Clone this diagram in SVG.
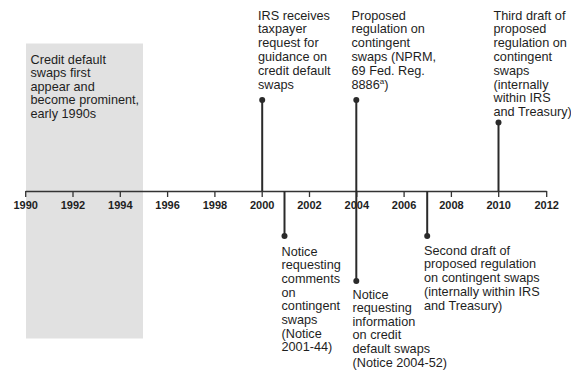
<svg xmlns="http://www.w3.org/2000/svg" width="571" height="370" viewBox="0 0 571 370">
<style>
.t{font-family:"Liberation Sans",Arial,Helvetica,sans-serif;font-size:12.7px;fill:#1e1e1e}
.y{font-family:"Liberation Sans",Arial,Helvetica,sans-serif;font-size:11px;font-weight:bold;fill:#1e1e1e;text-anchor:middle}
.stem{stroke:#2a2a2a;stroke-width:2;fill:none}
.dot{fill:#2a2a2a}
.axis{stroke:#333;stroke-width:1.3;fill:none}
</style>
<rect width="571" height="370" fill="#ffffff"/>
<g id="period-1990s">
<rect x="26" y="43.5" width="117" height="295" fill="#e1e1e1"/>
<text class="t" x="30.5" y="64"><tspan x="30.5">Credit default</tspan><tspan x="30.5" dy="13.4">swaps first</tspan><tspan x="30.5" dy="13.4">appear and</tspan><tspan x="30.5" dy="13.4">become prominent,</tspan><tspan x="30.5" dy="13.4">early 1990s</tspan></text>
</g>
<g id="axis">
<path class="axis" d="M25.7 191.5H546.7M25.7 191V197M73 191V197M120.3 191V197M167.6 191V197M214.9 191V197M262.2 191V197M309.5 191V197M356.8 191V197M404.1 191V197M451.4 191V197M498.7 191V197M546.7 191V197"/>
<text class="y" x="25.7" y="209">1990</text>
<text class="y" x="73" y="209">1992</text>
<text class="y" x="120.3" y="209">1994</text>
<text class="y" x="167.6" y="209">1996</text>
<text class="y" x="214.9" y="209">1998</text>
<text class="y" x="262.2" y="209">2000</text>
<text class="y" x="309.5" y="209">2002</text>
<text class="y" x="356.8" y="209">2004</text>
<text class="y" x="404.1" y="209">2006</text>
<text class="y" x="451.4" y="209">2008</text>
<text class="y" x="498.7" y="209">2010</text>
<text class="y" x="546.7" y="209">2012</text>
</g>
<g id="connectors">
<path class="stem" d="M262.2 100V191"/>
<path class="stem" d="M356.3 100V191"/>
<path class="stem" d="M498.5 122.5V191"/>
<path class="stem" d="M284.5 191V236"/>
<path class="stem" d="M356.3 191V281"/>
<path class="stem" d="M427.2 191V236"/>
</g>
<g id="event-2000">
<circle class="dot" cx="262.2" cy="100" r="3"/>
<text class="t" x="258" y="19.5"><tspan x="258">IRS receives</tspan><tspan x="258" dy="13.8">taxpayer</tspan><tspan x="258" dy="13.8">request for</tspan><tspan x="258" dy="13.8">guidance on</tspan><tspan x="258" dy="13.8">credit default</tspan><tspan x="258" dy="13.8">swaps</tspan></text>
</g>
<g id="event-2004-nprm">
<circle class="dot" cx="356.3" cy="100" r="3"/>
<text class="t" x="351.5" y="19.5"><tspan x="351.5">Proposed</tspan><tspan x="351.5" dy="13.8">regulation on</tspan><tspan x="351.5" dy="13.8">contingent</tspan><tspan x="351.5" dy="13.8">swaps (NPRM,</tspan><tspan x="351.5" dy="13.8">69 Fed. Reg.</tspan><tspan x="351.5" dy="13.8">8886<tspan font-size="8" dy="-4.5">a</tspan><tspan dy="4.5">)</tspan></tspan></text>
</g>
<g id="event-2010">
<circle class="dot" cx="498.5" cy="122.5" r="3"/>
<text class="t" x="493.5" y="19.5"><tspan x="493.5">Third draft of</tspan><tspan x="493.5" dy="13.8">proposed</tspan><tspan x="493.5" dy="13.8">regulation on</tspan><tspan x="493.5" dy="13.8">contingent</tspan><tspan x="493.5" dy="13.8">swaps</tspan><tspan x="493.5" dy="13.8">(internally</tspan><tspan x="493.5" dy="13.8">within IRS</tspan><tspan x="493.5" dy="13.8">and Treasury)</tspan></text>
</g>
<g id="event-2001">
<circle class="dot" cx="284.5" cy="236" r="3"/>
<text class="t" x="281.5" y="255.5"><tspan x="281.5">Notice</tspan><tspan x="281.5" dy="13.7">requesting</tspan><tspan x="281.5" dy="13.7">comments</tspan><tspan x="281.5" dy="13.7">on</tspan><tspan x="281.5" dy="13.7">contingent</tspan><tspan x="281.5" dy="13.7">swaps</tspan><tspan x="281.5" dy="13.7">(Notice</tspan><tspan x="281.5" dy="13.7">2001-44)</tspan></text>
</g>
<g id="event-2004-notice">
<circle class="dot" cx="356.3" cy="281" r="3"/>
<text class="t" x="352.5" y="298.5"><tspan x="352.5">Notice</tspan><tspan x="352.5" dy="13.6">requesting</tspan><tspan x="352.5" dy="13.6">information</tspan><tspan x="352.5" dy="13.6">on credit</tspan><tspan x="352.5" dy="13.6">default swaps</tspan><tspan x="352.5" dy="13.6">(Notice 2004-52)</tspan></text>
</g>
<g id="event-2007">
<circle class="dot" cx="427.2" cy="236" r="3"/>
<text class="t" x="424" y="254.5"><tspan x="424">Second draft of</tspan><tspan x="424" dy="13.75">proposed regulation</tspan><tspan x="424" dy="13.75">on contingent swaps</tspan><tspan x="424" dy="13.75">(internally within IRS</tspan><tspan x="424" dy="13.75">and Treasury)</tspan></text>
</g>
</svg>
